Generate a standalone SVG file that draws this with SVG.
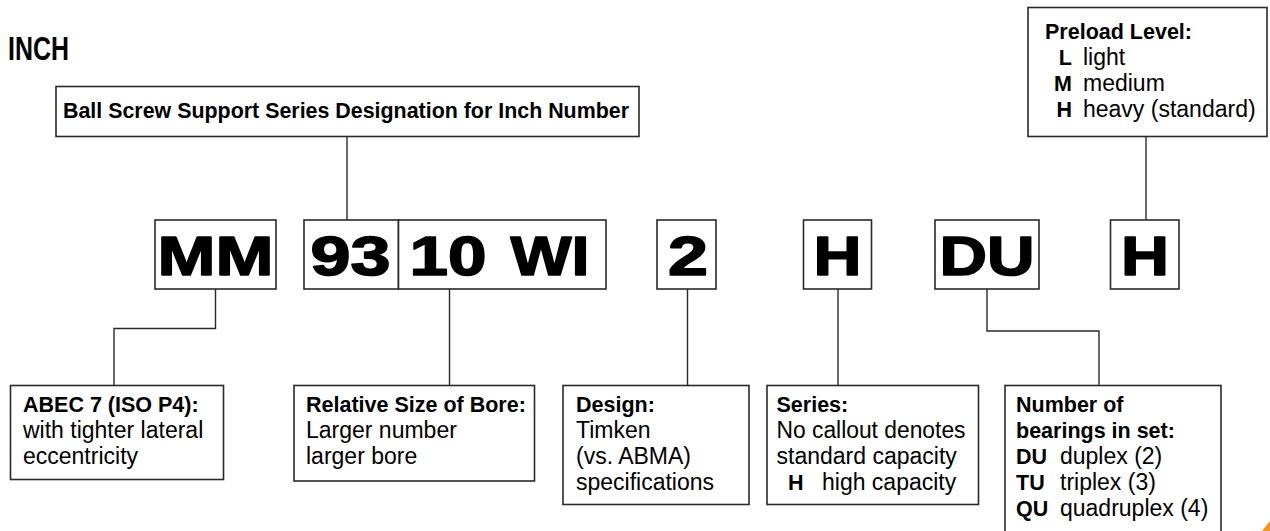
<svg xmlns="http://www.w3.org/2000/svg" width="1270" height="531" viewBox="0 0 1270 531">
<style>
  .box { fill: #ffffff; stroke: #2a2a2a; stroke-width: 1.6; }
  .con { fill: none; stroke: #2a2a2a; stroke-width: 1.4; }
  .b { font-family: "Liberation Sans", Arial, sans-serif; font-weight: bold; font-size: 21.5px; fill: #000; }
  .r { font-family: "Liberation Sans", Arial, sans-serif; font-size: 23px; fill: #000; }
  .code { font-family: "Liberation Sans", Arial, sans-serif; font-weight: bold; font-size: 56px; fill: #000; stroke: #000; stroke-width: 1.6; stroke-linejoin: round; text-anchor: middle; }
  .head { font-family: "Liberation Sans", Arial, sans-serif; font-weight: bold; font-size: 33px; fill: #000; }
</style>
<rect x="0" y="0" width="1270" height="531" fill="#ffffff"/>

<g id="heading">
  <text class="head" x="8" y="60" textLength="61" lengthAdjust="spacingAndGlyphs">INCH</text>
</g>

<g id="connectors">
  <path class="con" d="M347,136.5 V220"/>
  <path class="con" d="M215.5,289 V328.5 H114 V385.5"/>
  <path class="con" d="M449.5,289 V385.5"/>
  <path class="con" d="M687.5,289 V385.5"/>
  <path class="con" d="M838,289 V385.5"/>
  <path class="con" d="M987,289 V331 H1099 V385.5"/>
  <path class="con" d="M1146,136.5 V220"/>
</g>

<g id="series-designation">
  <rect class="box" x="56" y="86.5" width="583" height="50"/>
  <text class="b" x="63" y="118" textLength="566" lengthAdjust="spacingAndGlyphs">Ball Screw Support Series Designation for Inch Number</text>
</g>

<g id="code-MM">
  <rect class="box" x="155" y="220" width="121" height="69"/>
  <text class="code" x="215.5" y="275" textLength="116" lengthAdjust="spacingAndGlyphs">MM</text>
</g>
<g id="code-93">
  <rect class="box" x="304" y="220" width="94.5" height="69"/>
  <text class="code" x="350.5" y="275" textLength="80" lengthAdjust="spacingAndGlyphs">93</text>
</g>
<g id="code-10WI">
  <rect class="box" x="398.5" y="220" width="207.5" height="69"/>
  <text class="code" x="448" y="275" textLength="77" lengthAdjust="spacingAndGlyphs">10</text>
  <text class="code" x="550" y="275" textLength="79" lengthAdjust="spacingAndGlyphs">WI</text>
</g>
<g id="code-2">
  <rect class="box" x="657" y="220" width="59" height="69"/>
  <text class="code" x="688" y="275" textLength="40" lengthAdjust="spacingAndGlyphs">2</text>
</g>
<g id="code-H-series">
  <rect class="box" x="803.5" y="220" width="68" height="69"/>
  <text class="code" x="837.5" y="275" textLength="48" lengthAdjust="spacingAndGlyphs">H</text>
</g>
<g id="code-DU">
  <rect class="box" x="935" y="220" width="104" height="69"/>
  <text class="code" x="987" y="275" textLength="95" lengthAdjust="spacingAndGlyphs">DU</text>
</g>
<g id="code-H-preload">
  <rect class="box" x="1110.5" y="220" width="68.5" height="69"/>
  <text class="code" x="1145" y="275" textLength="48" lengthAdjust="spacingAndGlyphs">H</text>
</g>

<g id="preload-level">
  <rect class="box" x="1028" y="7.5" width="239" height="129"/>
  <text class="b" x="1045" y="39">Preload Level:</text>
  <text class="b" x="1072" y="65" text-anchor="end">L</text>
  <text class="r" x="1083" y="65">light</text>
  <text class="b" x="1072" y="91" text-anchor="end">M</text>
  <text class="r" x="1083" y="91">medium</text>
  <text class="b" x="1072" y="117" text-anchor="end">H</text>
  <text class="r" x="1083" y="117">heavy (standard)</text>
</g>

<g id="abec">
  <rect class="box" x="10.5" y="385.5" width="213" height="94"/>
  <text class="b" x="23" y="412">ABEC 7 (ISO P4):</text>
  <text class="r" x="23" y="438">with tighter lateral</text>
  <text class="r" x="23" y="464">eccentricity</text>
</g>

<g id="bore">
  <rect class="box" x="294" y="385.5" width="240.5" height="95.5"/>
  <text class="b" x="306" y="412">Relative Size of Bore:</text>
  <text class="r" x="306" y="438">Larger number</text>
  <text class="r" x="306" y="464">larger bore</text>
</g>

<g id="design">
  <rect class="box" x="563" y="385.5" width="186" height="119"/>
  <text class="b" x="576" y="412">Design:</text>
  <text class="r" x="576" y="438">Timken</text>
  <text class="r" x="576" y="464">(vs. ABMA)</text>
  <text class="r" x="576" y="490">specifications</text>
</g>

<g id="series">
  <rect class="box" x="767" y="385.5" width="211.5" height="119"/>
  <text class="b" x="776.5" y="412">Series:</text>
  <text class="r" x="776.5" y="438" textLength="189" lengthAdjust="spacingAndGlyphs">No callout denotes</text>
  <text class="r" x="776.5" y="464">standard capacity</text>
  <text class="b" x="788" y="490">H</text>
  <text class="r" x="822" y="490">high capacity</text>
</g>

<g id="bearings-in-set">
  <rect class="box" x="1005" y="385.5" width="216" height="160"/>
  <text class="b" x="1016" y="412">Number of</text>
  <text class="b" x="1016" y="438">bearings in set:</text>
  <text class="b" x="1016" y="464">DU</text>
  <text class="r" x="1060" y="464">duplex (2)</text>
  <text class="b" x="1016" y="490">TU</text>
  <text class="r" x="1060" y="490">triplex (3)</text>
  <text class="b" x="1016" y="516">QU</text>
  <text class="r" x="1060" y="516">quadruplex (4)</text>
</g>

<polygon points="1262,531 1270,521 1270,531" fill="#f7941e"/>
</svg>
